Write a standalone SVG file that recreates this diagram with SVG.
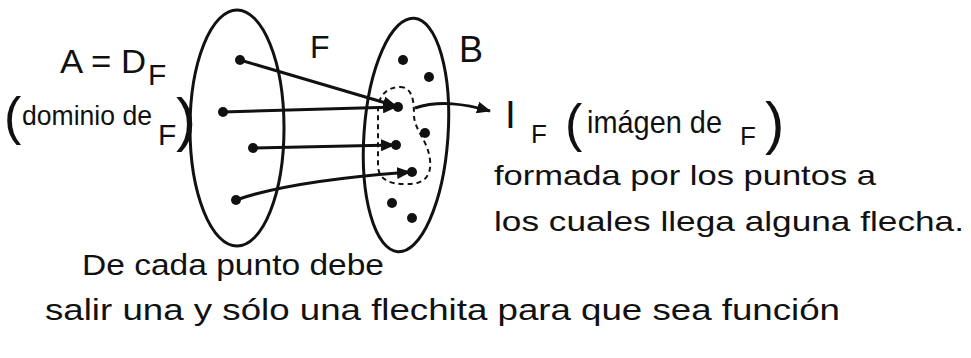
<svg xmlns="http://www.w3.org/2000/svg" width="971" height="358" viewBox="0 0 971 358">
<style>
.t{font-family:"Liberation Sans","DejaVu Sans",sans-serif;fill:#111}
.set{fill:none;stroke:#111;stroke-width:3}
.dot{fill:#111}
.arr{fill:none;stroke:#111;stroke-width:3;marker-end:url(#ah)}
.dash{fill:none;stroke:#111;stroke-width:2;stroke-dasharray:5 4}
</style>
<defs>
<marker id="ah" markerUnits="userSpaceOnUse" markerWidth="14" markerHeight="12" refX="13" refY="6" orient="auto">
<path d="M0,0 L14,6 L0,12 Z" fill="#111"/>
</marker>
</defs>
<rect width="971" height="358" fill="#fff"/>

<g id="setA">
<ellipse class="set" cx="237" cy="128" rx="47" ry="118"/>
<circle class="dot" cx="240" cy="60" r="5"/>
<circle class="dot" cx="223" cy="112" r="5"/>
<circle class="dot" cx="253" cy="148" r="5"/>
<circle class="dot" cx="236" cy="200" r="5"/>
</g>

<g id="setB">
<ellipse class="set" cx="406" cy="135" rx="42" ry="117" transform="rotate(4 406 135)"/>
<circle class="dot" cx="403" cy="60" r="5"/>
<circle class="dot" cx="429" cy="77" r="5"/>
<circle class="dot" cx="398" cy="107" r="5"/>
<circle class="dot" cx="425" cy="133" r="5"/>
<circle class="dot" cx="396" cy="145" r="5"/>
<circle class="dot" cx="412" cy="172" r="5"/>
<circle class="dot" cx="392" cy="203" r="5"/>
<circle class="dot" cx="412" cy="218" r="5"/>
</g>

<g id="image">
<path class="dash" d="M400 87 C412 87 414 100 414 115 C414 130 428 140 430 160 C432 178 422 185 405 184 C390 184 378 180 378 165 L378 110 C378 95 388 87 400 87 Z"/>
</g>

<g id="connectors">
<path class="arr" d="M240 60 L396 106"/>
<path class="arr" d="M223 112 L396 107"/>
<path class="arr" d="M253 148 L394 145"/>
<path class="arr" d="M236 200 C270 188 330 178 410 172"/>
<path class="arr" d="M415 108 C440 100 465 104 490 111"/>
</g>

<g id="labelA">
<text class="t" x="60" y="73" font-size="34" textLength="86" lengthAdjust="spacingAndGlyphs">A = D</text>
<text class="t" x="148" y="85" font-size="30">F</text>
<text class="t" x="4" y="134" font-size="52">(</text>
<text class="t" x="22" y="125" font-size="27" textLength="130" lengthAdjust="spacingAndGlyphs">dominio de</text>
<text class="t" x="158" y="145" font-size="30">F</text>
<text class="t" x="176" y="140" font-size="60">)</text>
</g>

<g id="labelF"><text class="t" x="310" y="58" font-size="32">F</text></g>
<g id="labelB"><text class="t" x="459" y="62" font-size="36">B</text></g>

<g id="labelIf">
<text class="t" x="505" y="128" font-size="39">I</text>
<text class="t" x="531" y="143" font-size="26">F</text>
<text class="t" x="565" y="141" font-size="52">(</text>
<text class="t" x="587" y="133" font-size="32" textLength="135" lengthAdjust="spacingAndGlyphs">imágen de</text>
<text class="t" x="740" y="145" font-size="26">F</text>
<text class="t" x="765" y="143" font-size="58">)</text>
<text class="t" x="494" y="185" font-size="28" textLength="382" lengthAdjust="spacingAndGlyphs">formada por los puntos a</text>
<text class="t" x="494" y="231" font-size="28" textLength="470" lengthAdjust="spacingAndGlyphs">los cuales llega alguna flecha.</text>
</g>

<g id="note">
<text class="t" x="82" y="275" font-size="30" textLength="302" lengthAdjust="spacingAndGlyphs">De cada punto debe</text>
<text class="t" x="45" y="320" font-size="30" textLength="795" lengthAdjust="spacingAndGlyphs">salir una y sólo una flechita para que sea función</text>
</g>
</svg>
